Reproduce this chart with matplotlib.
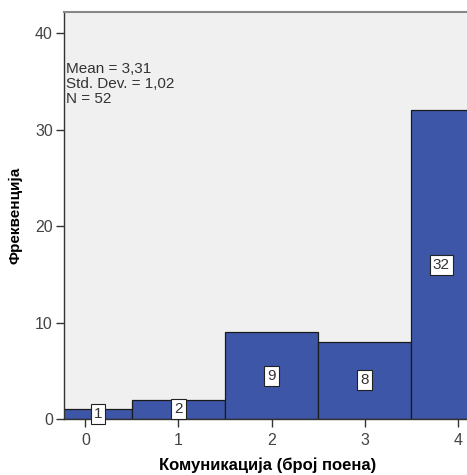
import matplotlib
matplotlib.use("Agg")
import matplotlib.pyplot as plt

# histogram data: score categories and frequencies
scores = [0, 1, 2, 3, 4]
counts = [1, 2, 9, 8, 32]
stats_lines = ["Mean = 3,31", "Std. Dev. = 1,02", "N = 52"]
y_ticks = [0, 10, 20, 30, 40]

plt.rcParams["font.family"] = ["Liberation Sans", "DejaVu Sans"]

fig = plt.figure(figsize=(4.67, 4.75), dpi=100)
ax = fig.add_axes([64 / 467, 56 / 475, 1 - 64 / 467 + 0.01, (419 - 12) / 475])
ax.set_facecolor("#f0f0f0")

xlim = (-0.23, 4.15)
ylim = (0, 42.2)

ax.bar(scores, counts, width=1.0, color="#3d56a7", edgecolor="#1a1a1a",
       linewidth=0.9, zorder=2)

# value labels, centred on the visible part of each bar
for s, c in zip(scores, counts):
    left = max(s - 0.5, xlim[0])
    right = min(s + 0.5, xlim[1])
    ax.text((left + right) / 2, c / 2, str(c), ha="center", va="center",
            fontsize=11, color="#333333", zorder=3,
            bbox=dict(boxstyle="square,pad=0.2", fc="white", ec="#222222", lw=0.8))

ax.text(0.006, 0.877, "\n".join(stats_lines), transform=ax.transAxes,
        ha="left", va="top", fontsize=11, linespacing=1.07, color="#333333")

ax.set_xlim(*xlim)
ax.set_ylim(*ylim)
ax.set_xticks(scores)
ax.set_yticks(y_ticks)
ax.tick_params(axis="both", direction="out", length=6, width=1,
               color="#333333", labelsize=11.5, labelcolor="#444444", pad=2)
ax.tick_params(axis="x", pad=4)

for side in ["left", "bottom"]:
    ax.spines[side].set_color("#333333")
    ax.spines[side].set_linewidth(1.0)
ax.spines["top"].set_color("#888888")
ax.spines["top"].set_linewidth(1.5)
ax.spines["right"].set_visible(False)

ax.set_xlabel("Комуникација (број поена)", fontsize=12, fontweight="bold", labelpad=7)
ax.set_ylabel("Фреквенција", fontsize=11, fontweight="bold", labelpad=9)

fig.savefig("out.png", dpi=100)
plt.close(fig)
